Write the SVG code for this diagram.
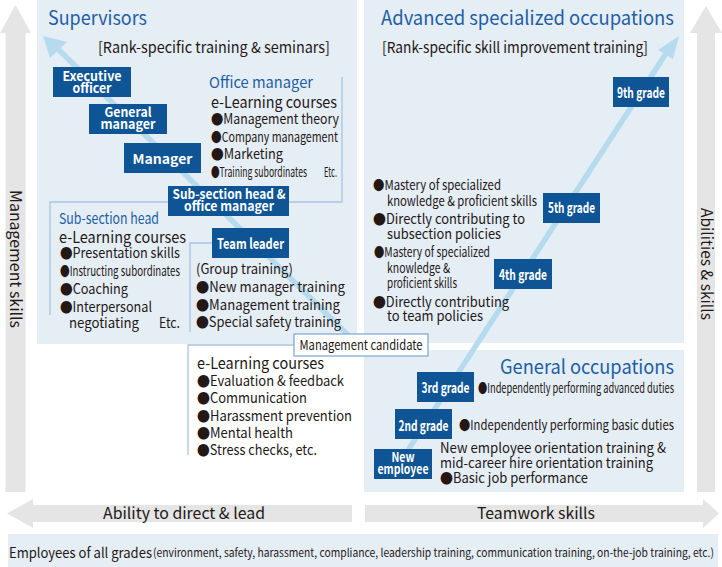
<svg xmlns="http://www.w3.org/2000/svg" width="722" height="567" viewBox="0 0 722 567">
<style>
text{font-family:"Noto Sans CJK JP","Noto Sans",sans-serif;fill:#231815}
.ttl{font-size:19.5px;fill:#1c5fa6}
.sub{font-size:15px}
.hd{font-size:15px;fill:#1c5fa6}
.el{font-size:15.5px}
.b{font-size:14px}
.bc{font-size:13.5px}
.box{fill:#0f5596}
.bl{font-size:13px;font-weight:bold;fill:#fff;text-anchor:middle}
.gl{font-size:14.5px}
.gray{fill:#e5e5e5}
.panel{fill:#e5edf5}
.brk{fill:none;stroke:#a8c4df;stroke-width:1.3}
.diag{stroke:#b7dbee;stroke-width:5.5;fill:none}
.head{fill:#b7dbee}
.side{font-size:15.5px;text-anchor:middle}
</style>

<g id="panels">
<rect class="panel" x="37" y="0" width="320" height="344"/>
<rect class="panel" x="364" y="0" width="320" height="343"/>
<rect class="panel" x="364" y="350" width="320" height="142"/>
<rect class="panel" x="8" y="534" width="710" height="33"/>
</g>
<g id="axes">
<polygon class="gray" points="15.5,5 31,33 25.5,33 25.5,492 5.5,492 5.5,33 0,33"/>
<polygon class="gray" points="706,6 722,33 715,33 715,492 697,492 697,33 690,33"/>
<polygon class="gray" points="7,513.5 33,499 33,505 352,505 352,522 33,522 33,528"/>
<polygon class="gray" points="365,505 703,505 703,499 719,513.5 703,528 703,522 365,522"/>
<text class="side" transform="translate(10,259) rotate(90)" textLength="138" lengthAdjust="spacingAndGlyphs">Management skills</text>
<text class="side" transform="translate(701,264) rotate(90)" textLength="112" lengthAdjust="spacingAndGlyphs">Abilities &amp; skills</text>
<text x="103" y="519" font-size="15.5" textLength="162" lengthAdjust="spacingAndGlyphs">Ability to direct &amp; lead</text>
<text x="477" y="519" font-size="15.5" textLength="118" lengthAdjust="spacingAndGlyphs">Teamwork skills</text>
<text x="9" y="558" font-size="14" textLength="143" lengthAdjust="spacingAndGlyphs">Employees of all grades</text>
<text transform="matrix(0.9,0,0,1,153,557)" font-size="11.5" textLength="623.3" lengthAdjust="spacingAndGlyphs">(environment, safety, harassment, compliance, leadership training, communication training, on-the-job training, etc.)</text>
</g>

<g id="connectors">
<line class="diag" x1="349" y1="336" x2="57" y2="48"/>
<polygon class="head" points="43,36 67,42 50,58"/>
<line class="diag" x1="395" y1="470" x2="667" y2="52"/>
<polygon class="head" points="679,36 658,50 673,59"/>
<path class="brk" d="M342,77 V202 H289"/>
<path class="brk" d="M168,202 H50 V315"/>
<path class="brk" d="M212,243 H190 V332"/>
<path class="brk" d="M294,345 H188 V455"/>
</g>

<g id="titles">
<text class="ttl" x="48" y="25" textLength="99" lengthAdjust="spacingAndGlyphs">Supervisors</text>
<text class="sub" x="98" y="53" textLength="232" lengthAdjust="spacingAndGlyphs">[Rank-specific training &amp; seminars]</text>
<text class="ttl" x="381" y="25" textLength="293" lengthAdjust="spacingAndGlyphs">Advanced specialized occupations</text>
<text class="sub" x="382" y="53" textLength="266" lengthAdjust="spacingAndGlyphs">[Rank-specific skill improvement training]</text>
<text class="ttl" x="500" y="374" textLength="174" lengthAdjust="spacingAndGlyphs">General occupations</text>
</g>

<g id="exec"><rect class="box" x="53" y="67" width="78" height="30"/>
<text class="bl" x="92" y="81" textLength="59" lengthAdjust="spacingAndGlyphs">Executive</text>
<text class="bl" x="92" y="93" textLength="39" lengthAdjust="spacingAndGlyphs">officer</text></g>
<g id="gm"><rect class="box" x="89" y="104" width="78" height="30"/>
<text class="bl" x="128" y="117" textLength="47" lengthAdjust="spacingAndGlyphs">General</text>
<text class="bl" x="128" y="128.5" textLength="55" lengthAdjust="spacingAndGlyphs">manager</text></g>
<g id="manager"><rect class="box" x="124" y="143" width="77" height="30"/>
<text class="bl" x="162.5" y="164" font-size="15.5" textLength="60" lengthAdjust="spacingAndGlyphs">Manager</text></g>
<g id="subsec"><rect class="box" x="168" y="186" width="121" height="30"/>
<text class="bl" x="229" y="199" textLength="113" lengthAdjust="spacingAndGlyphs">Sub-section head &amp;</text>
<text class="bl" x="229" y="211" textLength="90" lengthAdjust="spacingAndGlyphs">office manager</text></g>
<g id="teamleader"><rect class="box" x="212" y="228" width="77" height="30"/>
<text class="bl gl" transform="matrix(0.86,0,0,1,250.5,249)" textLength="77.9" lengthAdjust="spacingAndGlyphs">Team leader</text></g>
<g id="mgmtcand"><rect x="294" y="334" width="134" height="22" fill="#fff" stroke="#7aa6d0" stroke-width="1.2"/>
<text transform="matrix(0.91,0,0,1,361,350)" font-size="13.5" text-anchor="middle" textLength="135.2" lengthAdjust="spacingAndGlyphs">Management candidate</text></g>
<g id="g9"><rect class="box" x="613" y="77" width="56" height="30"/>
<text class="bl gl" transform="matrix(0.8,0,0,1,641,98)" textLength="60" lengthAdjust="spacingAndGlyphs">9th grade</text></g>
<g id="g5"><rect class="box" x="543" y="193" width="57" height="30"/>
<text class="bl gl" transform="matrix(0.8,0,0,1,571.5,213)" textLength="58.8" lengthAdjust="spacingAndGlyphs">5th grade</text></g>
<g id="g4"><rect class="box" x="494" y="259" width="58" height="30"/>
<text class="bl gl" transform="matrix(0.8,0,0,1,523,280)" textLength="60" lengthAdjust="spacingAndGlyphs">4th grade</text></g>
<g id="g3"><rect class="box" x="417" y="372" width="57" height="30"/>
<text class="bl gl" transform="matrix(0.8,0,0,1,445.5,393)" textLength="60" lengthAdjust="spacingAndGlyphs">3rd grade</text></g>
<g id="g2"><rect class="box" x="395" y="409" width="57" height="30"/>
<text class="bl gl" transform="matrix(0.8,0,0,1,423.5,431)" textLength="62.5" lengthAdjust="spacingAndGlyphs">2nd grade</text></g>
<g id="newemp"><rect class="box" x="374" y="449" width="58" height="30"/>
<text class="bl" x="403" y="462" textLength="23" lengthAdjust="spacingAndGlyphs">New</text>
<text class="bl" x="403" y="474" textLength="51" lengthAdjust="spacingAndGlyphs">employee</text></g>

<g id="officemanager-text">
<text class="hd" x="209" y="88" textLength="104" lengthAdjust="spacingAndGlyphs">Office manager</text>
<text class="el" x="211" y="108" textLength="126" lengthAdjust="spacingAndGlyphs">e-Learning courses</text>
<text class="b" x="211" y="124" textLength="128" lengthAdjust="spacingAndGlyphs">●Management theory</text>
<text class="bc" transform="matrix(0.87,0,0,1,211,142)" textLength="146" lengthAdjust="spacingAndGlyphs">●Company management</text>
<text class="b" x="211" y="159" textLength="72" lengthAdjust="spacingAndGlyphs">●Marketing</text>
<text class="bc" transform="matrix(0.7,0,0,1,211,177)" textLength="137.1" lengthAdjust="spacingAndGlyphs">●Training subordinates</text>
<text class="bc" x="324" y="177" textLength="13" lengthAdjust="spacingAndGlyphs">Etc.</text>
</g>

<g id="subsection-text">
<text class="hd" x="59" y="224" textLength="100" lengthAdjust="spacingAndGlyphs">Sub-section head</text>
<text class="el" x="59" y="243" textLength="127" lengthAdjust="spacingAndGlyphs">e-Learning courses</text>
<text class="b" x="60" y="258" textLength="120" lengthAdjust="spacingAndGlyphs">●Presentation skills</text>
<text class="bc" transform="matrix(0.79,0,0,1,60,276)" textLength="151.9" lengthAdjust="spacingAndGlyphs">●Instructing subordinates</text>
<text class="b" x="60" y="294" textLength="68" lengthAdjust="spacingAndGlyphs">●Coaching</text>
<text class="b" x="60" y="312" textLength="92" lengthAdjust="spacingAndGlyphs">●Interpersonal</text>
<text class="b" x="69" y="328" textLength="70" lengthAdjust="spacingAndGlyphs">negotiating</text>
<text class="b" x="159" y="328" textLength="21" lengthAdjust="spacingAndGlyphs">Etc.</text>
</g>

<g id="teamleader-text">
<text class="b" x="196" y="274" textLength="97" lengthAdjust="spacingAndGlyphs">(Group training)</text>
<text class="b" x="196" y="292" textLength="149" lengthAdjust="spacingAndGlyphs">●New manager training</text>
<text class="b" x="196" y="310" textLength="144" lengthAdjust="spacingAndGlyphs">●Management training</text>
<text class="b" x="196" y="327" textLength="145" lengthAdjust="spacingAndGlyphs">●Special safety training</text>
</g>

<g id="candidate-text">
<text class="el" x="197" y="369" textLength="127" lengthAdjust="spacingAndGlyphs">e-Learning courses</text>
<text class="b" x="197" y="386" textLength="147" lengthAdjust="spacingAndGlyphs">●Evaluation &amp; feedback</text>
<text class="b" x="197" y="403" textLength="110" lengthAdjust="spacingAndGlyphs">●Communication</text>
<text class="b" x="197" y="421" textLength="155" lengthAdjust="spacingAndGlyphs">●Harassment prevention</text>
<text class="b" x="197" y="438" textLength="96" lengthAdjust="spacingAndGlyphs">●Mental health</text>
<text class="b" x="197" y="455" textLength="120" lengthAdjust="spacingAndGlyphs">●Stress checks, etc.</text>
</g>

<g id="grades-text">
<text class="bc" transform="matrix(0.93,0,0,1,373,190)" textLength="137.6" lengthAdjust="spacingAndGlyphs">●Mastery of specialized</text>
<text class="bc" transform="matrix(0.93,0,0,1,387,206)" textLength="161.3" lengthAdjust="spacingAndGlyphs">knowledge &amp; proficient skills</text>
<text class="b" x="373" y="224" textLength="152" lengthAdjust="spacingAndGlyphs">●Directly contributing to</text>
<text class="b" x="387" y="239" textLength="114" lengthAdjust="spacingAndGlyphs">subsection policies</text>
<text class="bc" transform="matrix(0.84,0,0,1,374,257)" textLength="138.1" lengthAdjust="spacingAndGlyphs">●Mastery of specialized</text>
<text class="bc" transform="matrix(0.86,0,0,1,387,273)" textLength="73.3" lengthAdjust="spacingAndGlyphs">knowledge &amp;</text>
<text class="bc" transform="matrix(0.82,0,0,1,387,288)" textLength="85.4" lengthAdjust="spacingAndGlyphs">proficient skills</text>
<text class="b" x="373" y="307" textLength="136" lengthAdjust="spacingAndGlyphs">●Directly contributing</text>
<text class="b" x="387" y="321" textLength="96" lengthAdjust="spacingAndGlyphs">to team policies</text>
</g>

<g id="general-text">
<text class="bc" transform="matrix(0.79,0,0,1,478,393)" font-size="12.5" textLength="248.1" lengthAdjust="spacingAndGlyphs">●Independently performing advanced duties</text>
<text class="bc" transform="matrix(0.87,0,0,1,459,430)" textLength="247.1" lengthAdjust="spacingAndGlyphs">●Independently performing basic duties</text>
<text class="b" x="440" y="453" textLength="226" lengthAdjust="spacingAndGlyphs">New employee orientation training &amp;</text>
<text class="b" x="440" y="468" textLength="213" lengthAdjust="spacingAndGlyphs">mid-career hire orientation training</text>
<text class="b" x="440" y="483" textLength="148" lengthAdjust="spacingAndGlyphs">●Basic job performance</text>
</g>
</svg>
